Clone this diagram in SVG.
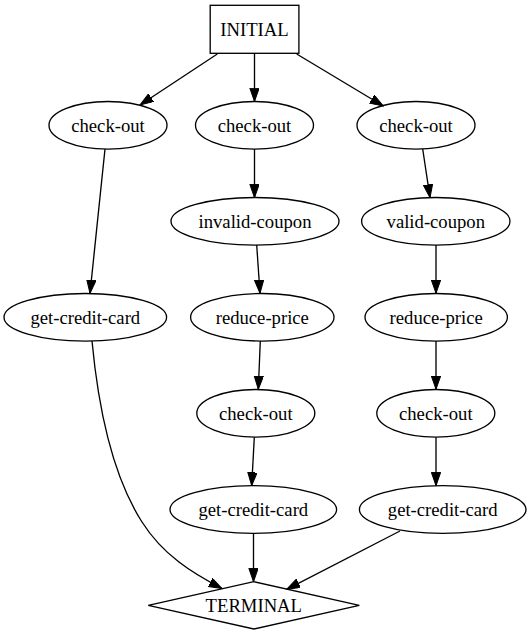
<svg xmlns="http://www.w3.org/2000/svg" width="531" height="635" viewBox="0 0 531 635">
  <style>
    .shape { fill: none; stroke: #000; stroke-width: 1.33; }
    .edge { fill: none; stroke: #000; stroke-width: 1.33; marker-end: url(#arrow); }
    text { font-family: "Liberation Serif", "Times New Roman", serif; font-size: 18.67px; fill: #000; text-anchor: middle; }
  </style>
  <defs>
    <marker id="arrow" markerUnits="userSpaceOnUse" markerWidth="14" markerHeight="10" refX="13.33" refY="4.67" orient="auto">
      <path d="M0,0 L13.33,4.67 L0,9.33 z" fill="#000" stroke="#000" stroke-width="1"/>
    </marker>
  </defs>
  <rect width="531" height="635" fill="#fff"/>

  <g id="connectors">
    <path class="edge" d="M217.3,54 L140,105"/>
    <path class="edge" d="M254.5,53.3 L254.5,101.5"/>
    <path class="edge" d="M296.7,54 L383.3,106"/>
    <path class="edge" d="M105,149 L90,293.3"/>
    <path class="edge" d="M254.5,149 L254.5,197.7"/>
    <path class="edge" d="M422.7,149 L430,197.7"/>
    <path class="edge" d="M256.7,245 L260,293.3"/>
    <path class="edge" d="M436,245 L436,293.3"/>
    <path class="edge" d="M260.3,341 L258.3,389.3"/>
    <path class="edge" d="M436,341 L436,389.3"/>
    <path class="edge" d="M254.3,437.3 L251.7,485.7"/>
    <path class="edge" d="M436,437.3 L436,485.7"/>
    <path class="edge" d="M92,341 C98,405 112,475 142,522 C163,555 192,573 222,588.5"/>
    <path class="edge" d="M253.5,533.3 L253.5,581.7"/>
    <path class="edge" d="M400,531 L286.7,589.3"/>
  </g>

  <g id="initial">
    <rect class="shape" x="210.2" y="5.3" width="88.7" height="48"/>
    <text x="254.5" y="35.5">INITIAL</text>
  </g>

  <g id="checkout-a">
    <ellipse class="shape" cx="108" cy="125.3" rx="59" ry="23.8"/>
    <text x="108" y="131.8">check-out</text>
  </g>
  <g id="checkout-b">
    <ellipse class="shape" cx="254.5" cy="125.3" rx="59" ry="23.8"/>
    <text x="254.5" y="131.8">check-out</text>
  </g>
  <g id="checkout-c">
    <ellipse class="shape" cx="416" cy="125.3" rx="59" ry="23.8"/>
    <text x="416" y="131.8">check-out</text>
  </g>

  <g id="invalid-coupon">
    <ellipse class="shape" cx="255" cy="221.3" rx="84" ry="23.8"/>
    <text x="255" y="227.8">invalid-coupon</text>
  </g>
  <g id="valid-coupon">
    <ellipse class="shape" cx="435.8" cy="221.3" rx="74.2" ry="23.8"/>
    <text x="435.8" y="227.8">valid-coupon</text>
  </g>

  <g id="get-credit-card-a">
    <ellipse class="shape" cx="85.3" cy="317.3" rx="81.3" ry="23.8"/>
    <text x="85.3" y="323.8">get-credit-card</text>
  </g>
  <g id="reduce-price-b">
    <ellipse class="shape" cx="262.3" cy="317.3" rx="71.7" ry="23.8"/>
    <text x="262.3" y="323.8">reduce-price</text>
  </g>
  <g id="reduce-price-c">
    <ellipse class="shape" cx="436.2" cy="317.3" rx="71.2" ry="23.8"/>
    <text x="436.2" y="323.8">reduce-price</text>
  </g>

  <g id="checkout-b2">
    <ellipse class="shape" cx="255.8" cy="413.3" rx="59" ry="23.8"/>
    <text x="255.8" y="419.8">check-out</text>
  </g>
  <g id="checkout-c2">
    <ellipse class="shape" cx="435.8" cy="413.3" rx="59" ry="23.8"/>
    <text x="435.8" y="419.8">check-out</text>
  </g>

  <g id="get-credit-card-b">
    <ellipse class="shape" cx="253.3" cy="509.5" rx="83.3" ry="23.8"/>
    <text x="253.3" y="516">get-credit-card</text>
  </g>
  <g id="get-credit-card-c">
    <ellipse class="shape" cx="442.7" cy="509.5" rx="83.3" ry="23.8"/>
    <text x="442.7" y="516">get-credit-card</text>
  </g>

  <g id="terminal">
    <polygon class="shape" points="148.3,605.3 253.8,581.7 359.3,605.3 253.8,629"/>
    <text x="253.8" y="611.8">TERMINAL</text>
  </g>
</svg>
